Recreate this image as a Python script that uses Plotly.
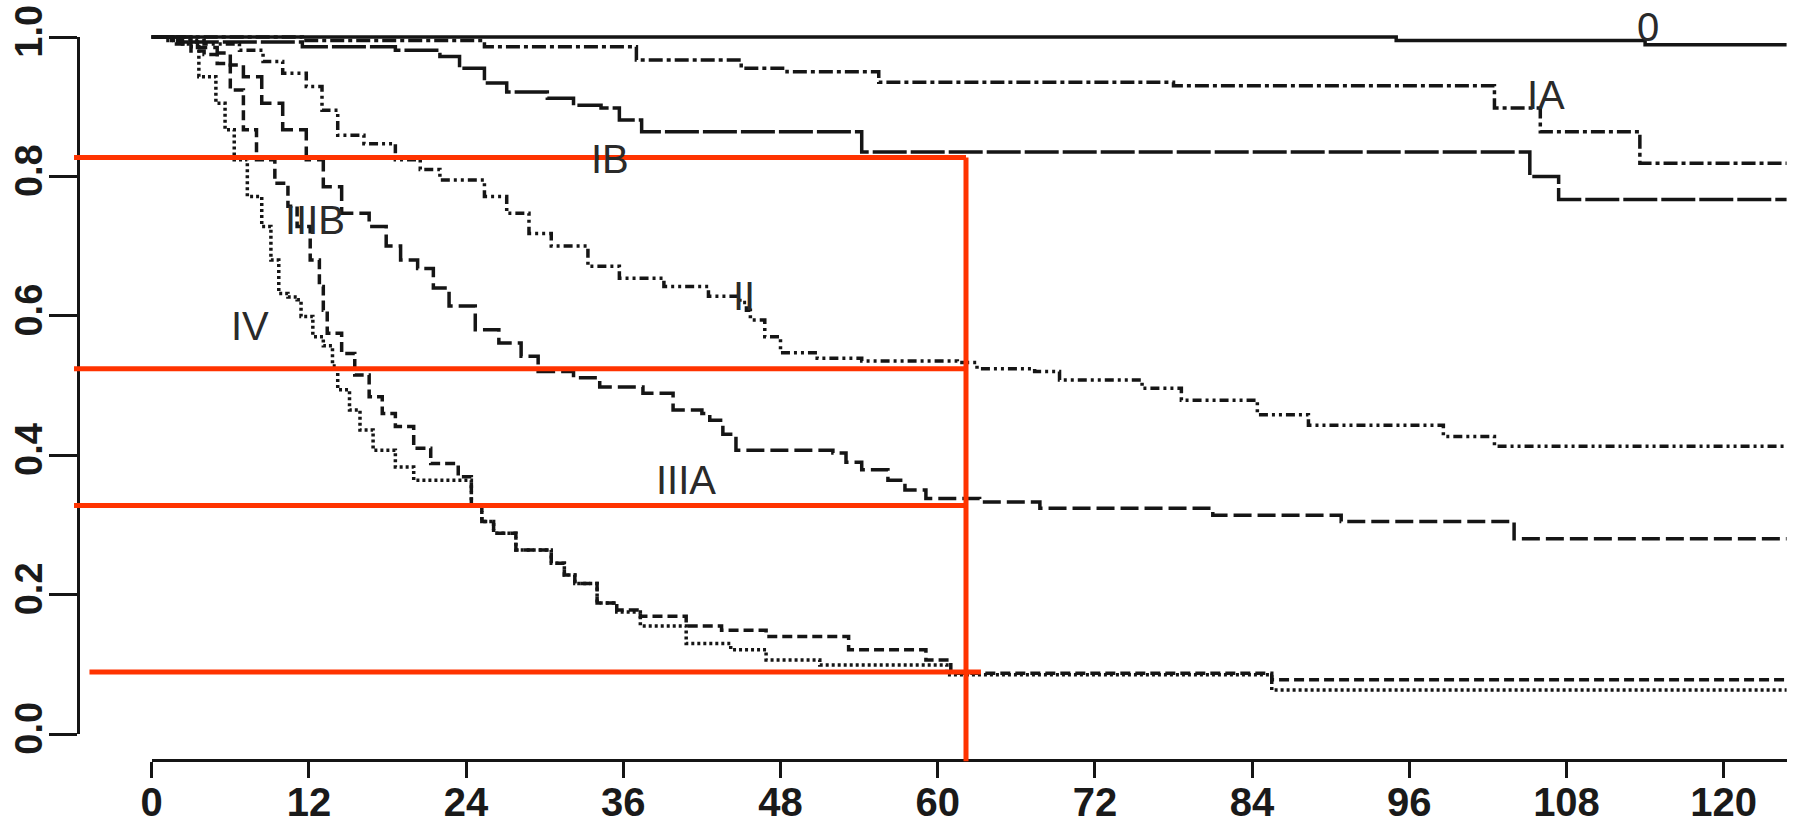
import plotly.graph_objects as go

W, H = 1802, 828

# ---------------- data (months, survival proportion) ----------------
months_end = 124.8

stage0_t = [0, 95, 114]
stage0_s = [1.0, 0.995, 0.989]

stageIA_t = [0, 11.5, 25.4, 37.0, 45.0, 48.5, 55.5, 78.0, 102.5, 106.0, 113.6]
stageIA_s = [1.0, 0.995, 0.986, 0.967, 0.955, 0.950, 0.935, 0.930, 0.898, 0.864, 0.819]

stageIB_t = [0, 3, 11.5, 18.6, 22.0, 23.5, 25.4, 27.1, 30.2, 32.2, 34.3, 35.7, 37.4, 54.2, 105.2, 107.4]
stageIB_s = [1.0, 0.993, 0.986, 0.981, 0.972, 0.955, 0.934, 0.921, 0.912, 0.902, 0.898, 0.881, 0.864,
             0.835, 0.800, 0.767]

stageII_t = [0, 2, 4, 6.7, 8.5, 10.0, 11.8, 13.0, 14.2, 16.2, 18.6, 20.5, 22.0, 25.4, 27.1, 28.8, 30.5,
             33.3, 35.7, 39.1, 42.5, 44.9, 45.4, 45.7, 46.8, 48.0, 50.8, 54.2, 61.5, 63.0, 67.4, 69.3,
             75.6, 78.6, 84.4, 88.3, 98.6, 102.5]
stageII_s = [1.0, 0.995, 0.990, 0.981, 0.965, 0.948, 0.929, 0.895, 0.859, 0.847, 0.824, 0.810, 0.795,
             0.771, 0.747, 0.718, 0.700, 0.671, 0.654, 0.642, 0.628, 0.619, 0.608, 0.594, 0.570, 0.547,
             0.539, 0.535, 0.533, 0.524, 0.520, 0.508, 0.496, 0.479, 0.458, 0.443, 0.427, 0.413]

stageIIIA_t = [0, 2, 3.5, 5.0, 6.0, 7.0, 8.4, 10.0, 11.8, 13.1, 14.5, 16.6, 17.9, 19.0, 20.3, 21.5, 22.7,
               24.7, 26.5, 28.2, 29.5, 32.2, 34.2, 37.5, 39.8, 42.0, 42.6, 43.6, 44.6, 52.0, 53.0, 54.2,
               56.2, 57.5, 59.1, 63.2, 67.8, 81.0, 90.8, 104.0]
stageIIIA_s = [1.0, 0.993, 0.985, 0.977, 0.960, 0.943, 0.905, 0.867, 0.824, 0.785, 0.747, 0.728, 0.700,
               0.680, 0.668, 0.640, 0.614, 0.580, 0.561, 0.542, 0.520, 0.511, 0.498, 0.489, 0.465, 0.460,
               0.450, 0.430, 0.407, 0.403, 0.390, 0.379, 0.364, 0.350, 0.338, 0.333, 0.324, 0.314, 0.305,
               0.280]

stageIIIB_t = [0, 1.5, 3.0, 4.0, 5.0, 6.0, 7.0, 8.0, 9.4, 10.4, 11.1, 12.1, 12.8, 13.1, 13.4, 14.5, 15.5,
               16.6, 17.6, 18.6, 20.0, 21.3, 23.4, 24.4, 25.2, 26.1, 27.8, 30.5, 31.5, 32.3, 34.0, 35.5,
               37.3, 40.8, 43.5, 46.9, 53.2, 59.1, 61.0, 85.5]
stageIIIB_s = [1.0, 0.990, 0.980, 0.975, 0.962, 0.924, 0.867, 0.824, 0.790, 0.757, 0.728, 0.680, 0.642,
               0.608, 0.575, 0.546, 0.515, 0.484, 0.460, 0.441, 0.410, 0.388, 0.369, 0.327, 0.305, 0.288,
               0.264, 0.245, 0.228, 0.216, 0.188, 0.178, 0.169, 0.155, 0.149, 0.140, 0.121, 0.106, 0.087,
               0.078]

stageIV_t = [0, 1.0, 2.0, 2.9, 3.6, 4.9, 5.6, 6.3, 7.3, 8.4, 9.1, 9.7, 10.4, 11.1, 11.4, 12.3, 13.1, 13.8,
             14.2, 15.1, 15.9, 16.9, 18.6, 20.0, 24.4, 25.2, 26.1, 27.8, 30.5, 31.5, 32.3, 34.0, 35.5,
             37.3, 40.8, 44.2, 46.9, 51.0, 60.7, 85.5]
stageIV_s = [1.0, 0.995, 0.990, 0.986, 0.943, 0.905, 0.867, 0.824, 0.771, 0.728, 0.680, 0.632, 0.627,
             0.623, 0.599, 0.570, 0.557, 0.528, 0.494, 0.465, 0.436, 0.407, 0.383, 0.364, 0.327, 0.305,
             0.288, 0.264, 0.245, 0.228, 0.216, 0.188, 0.175, 0.155, 0.130, 0.121, 0.106, 0.099, 0.085,
             0.063]

curve_names = ["0", "IA", "IB", "II", "IIIA", "IIIB", "IV"]
curve_times = [stage0_t, stageIA_t, stageIB_t, stageII_t, stageIIIA_t, stageIIIB_t, stageIV_t]
curve_surv = [stage0_s, stageIA_s, stageIB_s, stageII_s, stageIIIA_s, stageIIIB_s, stageIV_s]

label_text = ["0", "IA", "IB", "II", "IIIA", "IIIB", "IV"]
label_x = [114.2, 106.4, 35.0, 45.2, 40.75, 12.5, 7.5]
label_y = [1.014, 0.917, 0.825, 0.628, 0.364, 0.737, 0.586]

x_tick_vals = [0, 12, 24, 36, 48, 60, 72, 84, 96, 108, 120]
x_tick_text = ["0", "12", "24", "36", "48", "60", "72", "84", "96", "108", "120"]
y_tick_vals = [0.0, 0.2, 0.4, 0.6, 0.8, 1.0]
y_tick_text = ["0.0", "0.2", "0.4", "0.6", "0.8", "1.0"]

# red annotation lines (5-year marks)
red_h_y = [0.827, 0.524, 0.328, 0.089]
red_h_x0 = [-5.93, -5.93, -5.93, -4.75]
red_h_x1 = [62.16, 62.16, 62.16, 63.3]
red_v_x = [62.16]
red_v_y0 = [-0.039]
red_v_y1 = [0.827]

# ---------------- styling / geometry ----------------
X0_PX, PX_PER_MONTH = 151.7, 13.1      # month 0 pixel, pixels per month
Y0_PX, PX_PER_UNIT = 734.0, 697.0      # survival 0 pixel, pixels per unit
XAXIS_LINE_PX = 760.0
YAXIS_LINE_PX = 78.0

def px_x(m):
    return X0_PX + PX_PER_MONTH * m

def px_y(v):
    return Y0_PX - PX_PER_UNIT * v

dashes = ["solid", "14px,4px,4px,4px", "34px,4px", "9px,4px,3px,4px,3px,4px",
          "18px,6px", "10px,5px", "3px,3px"]
INK = "#151515"
RED = "rgb(255,51,0)"
FONT = "Liberation Sans, Arial, sans-serif"

fig = go.Figure()

for name, t, s, d in zip(curve_names, curve_times, curve_surv, dashes):
    fig.add_trace(go.Scatter(
        x=t + [months_end], y=s + [s[-1]], mode="lines", name=name,
        line=dict(color=INK, width=3.5, dash=d, shape="hv"),
        showlegend=False, hoverinfo="x+y+name"))

# invisible trace registering the visible (calibrated) axes
fig.add_trace(go.Scatter(x=[None], y=[None], xaxis="x2", yaxis="y2",
                         showlegend=False, hoverinfo="skip"))

for txt, lx, ly in zip(label_text, label_x, label_y):
    fig.add_annotation(x=lx, y=ly, xref="x", yref="y", text=txt, showarrow=False,
                       xanchor="center", yanchor="middle",
                       font=dict(family=FONT, size=40, color="#2a2a2a"))

for yv, xa, xb in zip(red_h_y, red_h_x0, red_h_x1):
    fig.add_shape(type="line", xref="x", yref="y", x0=xa, x1=xb, y0=yv, y1=yv,
                  line=dict(color=RED, width=5), layer="above")
for xv, ya, yb in zip(red_v_x, red_v_y0, red_v_y1):
    fig.add_shape(type="line", xref="x", yref="y", x0=xv, x1=xv, y0=ya, y1=yb,
                  line=dict(color=RED, width=5), layer="above")

fig.update_layout(
    width=W, height=H, autosize=False,
    margin=dict(l=0, r=0, t=0, b=0, pad=0, autoexpand=False),
    paper_bgcolor="white", plot_bgcolor="rgba(0,0,0,0)",
    xaxis=dict(domain=[0, 1], range=[(0 - X0_PX) / PX_PER_MONTH, (W - X0_PX) / PX_PER_MONTH],
               visible=False, fixedrange=True, automargin=False),
    yaxis=dict(domain=[0, 1], range=[(Y0_PX - H) / PX_PER_UNIT, Y0_PX / PX_PER_UNIT],
               visible=False, fixedrange=True, automargin=False),
    xaxis2=dict(domain=[px_x(0) / W, px_x(months_end) / W], range=[0, months_end],
                anchor="free", position=(H - XAXIS_LINE_PX) / H, automargin=False,
                showline=True, linecolor=INK, linewidth=3, mirror=False,
                ticks="outside", ticklen=16, tickwidth=3, tickcolor=INK,
                ticklabelstandoff=-10,
                tickvals=x_tick_vals, ticktext=x_tick_text,
                tickfont=dict(family=FONT, size=40, color="#1a1a1a", weight="bold"),
                showgrid=False, zeroline=False, fixedrange=True),
    yaxis2=dict(domain=[(H - px_y(0)) / H, (H - px_y(1)) / H], range=[0, 1],
                anchor="free", position=YAXIS_LINE_PX / W, automargin=False,
                showline=True, linecolor=INK, linewidth=3, mirror=False,
                ticks="outside", ticklen=28, tickwidth=3, tickcolor=INK,
                ticklabelstandoff=-8,
                tickvals=y_tick_vals, ticktext=y_tick_text, tickangle=-90,
                tickfont=dict(family=FONT, size=38, color="#1a1a1a", weight="bold"),
                showgrid=False, zeroline=False, fixedrange=True),
)

fig.write_html("out.html", include_plotlyjs=True, full_html=True,
               config={"displayModeBar": False},
               post_script="document.body.style.margin='0px';document.body.style.overflow='hidden';")
